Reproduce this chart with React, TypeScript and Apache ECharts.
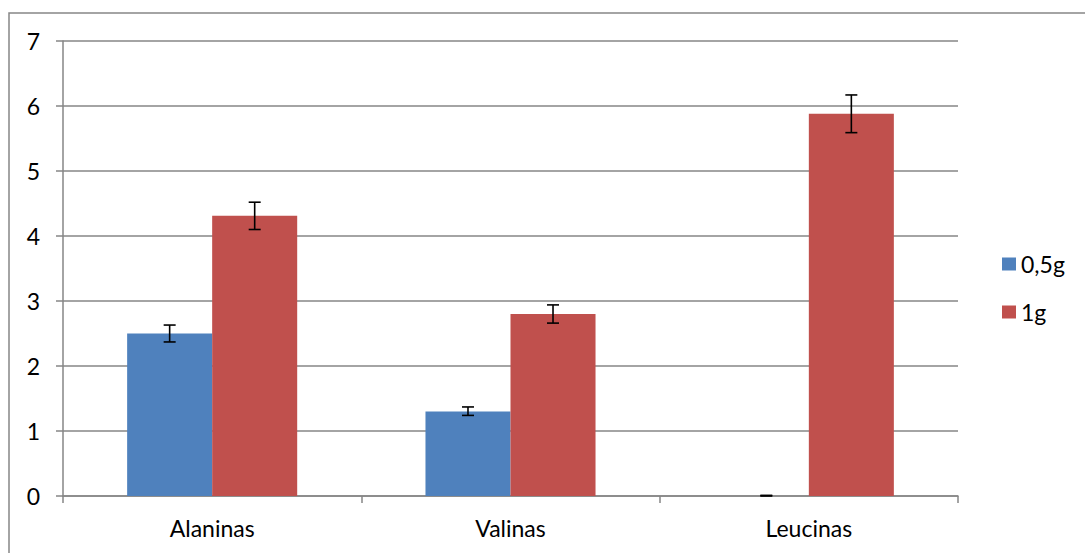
import React, { useEffect, useRef } from "react";
import * as echarts from "echarts";

const categories = ["Alaninas", "Valinas", "Leucinas"];
const seriesNames = ["0,5g", "1g"];
const values05 = [2.5, 1.3, 0];
const values1 = [4.31, 2.8, 5.88];
const err05Low = [2.37, 1.24, 0];
const err05High = [2.63, 1.37, 0.01];
const err1Low = [4.1, 2.66, 5.59];
const err1High = [4.52, 2.94, 6.17];
const yTicks = [0, 1, 2, 3, 4, 5, 6, 7];

const FONT = "Lato, 'Open Sans', sans-serif";
const GAP = 0.43;
const FS = 23;

function errorSeries(low: number[], high: number[], side: number) {
  return {
    type: "custom",
    z: 10,
    data: low.map((l, i) => [i, l, high[i]]),
    encode: { x: 0, y: [1, 2] },
    renderItem: (params: any, api: any) => {
      const idx = api.value(0);
      const lo = api.coord([idx, api.value(1)]);
      const hi = api.coord([idx, api.value(2)]);
      const catW = api.size([1, 0])[0];
      const barW = (catW * (1 - GAP)) / 2;
      const x = lo[0] + side * barW / 2;
      const cap = 6;
      const style = { stroke: "#000", lineWidth: 1.6 };
      return {
        type: "group",
        children: [
          { type: "line", shape: { x1: x, y1: lo[1], x2: x, y2: hi[1] }, style },
          { type: "line", shape: { x1: x - cap, y1: lo[1], x2: x + cap, y2: lo[1] }, style },
          { type: "line", shape: { x1: x - cap, y1: hi[1], x2: x + cap, y2: hi[1] }, style },
        ],
      };
    },
  };
}

export default function App() {
  const ref = useRef<HTMLDivElement>(null);
  useEffect(() => {
    const chart = echarts.init(ref.current!, null, { renderer: "svg" });
    chart.setOption({
      animation: false,
      backgroundColor: "#fff",
      textStyle: { fontFamily: FONT },
      graphic: [
        {
          type: "rect",
          shape: { x: 9, y: 13, width: 1200, height: 700 },
          style: { fill: "none", stroke: "#868686", lineWidth: 1.5 },
          silent: true,
          z: -1,
        },
      ],
      grid: { left: 63, right: 127, top: 41, bottom: 57 },
      legend: {
        orient: "vertical",
        left: 1002,
        top: 251,
        padding: 0,
        itemWidth: 14,
        itemHeight: 13,
        itemGap: 22,
        icon: "rect",
        data: seriesNames,
        textStyle: { fontSize: FS, color: "#000", fontFamily: FONT, lineHeight: 26 },
      },
      xAxis: {
        type: "category",
        data: categories,
        axisLine: { lineStyle: { color: "#868686", width: 1.5 } },
        axisTick: { show: true, length: 7, lineStyle: { color: "#868686", width: 1.5 } },
        axisLabel: { fontSize: FS, color: "#000", margin: 20, fontFamily: FONT },
      },
      yAxis: {
        type: "value",
        min: yTicks[0],
        max: yTicks[yTicks.length - 1],
        interval: 1,
        axisLine: { show: true, lineStyle: { color: "#868686", width: 1.5 } },
        axisTick: { show: true, length: 7, lineStyle: { color: "#868686", width: 1.5 } },
        axisLabel: { fontSize: FS, color: "#000", margin: 23, fontFamily: FONT },
        splitLine: { lineStyle: { color: "#868686", width: 1.5 } },
      },
      series: [
        {
          name: seriesNames[0],
          type: "bar",
          data: values05,
          barGap: "0%",
          barCategoryGap: GAP * 100 + "%",
          itemStyle: { color: "#4F81BD" },
        },
        {
          name: seriesNames[1],
          type: "bar",
          data: values1,
          barGap: "0%",
          barCategoryGap: GAP * 100 + "%",
          itemStyle: { color: "#C0504D" },
        },
        errorSeries(err05Low, err05High, -1),
        errorSeries(err1Low, err1High, 1),
      ],
    });
    return () => chart.dispose();
  }, []);
  return <div ref={ref} style={{ width: 1085, height: 553, position: "absolute", left: 0, top: 0 }} />;
}
